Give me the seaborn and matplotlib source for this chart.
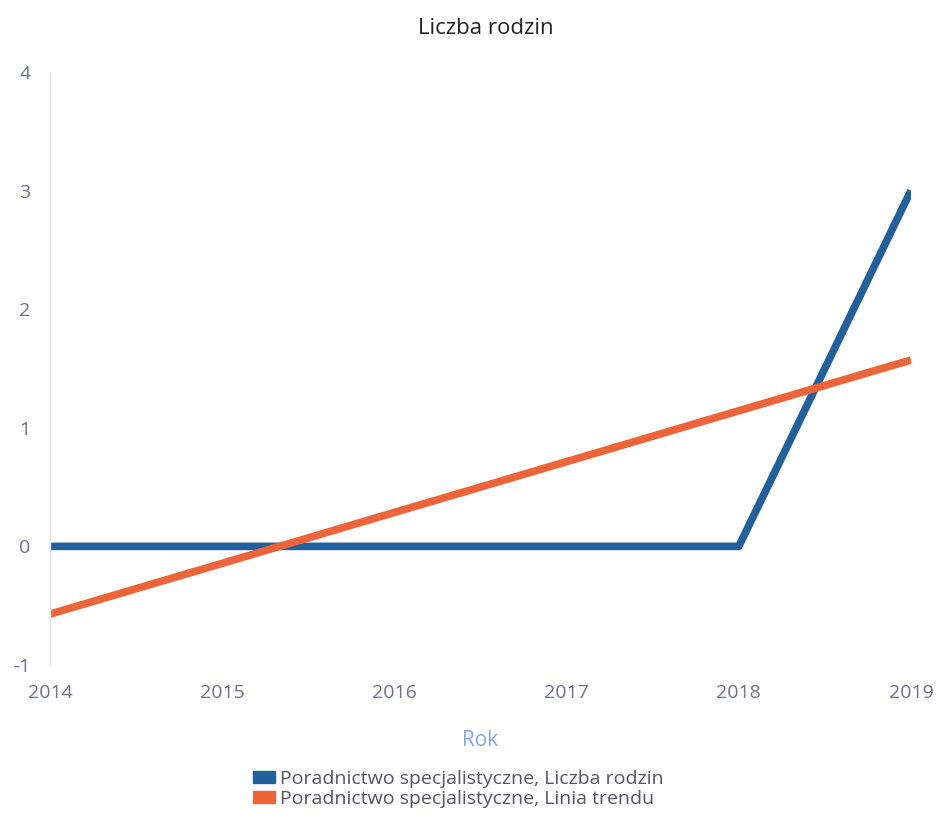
import matplotlib
matplotlib.use("Agg")
import matplotlib.pyplot as plt
from matplotlib.patches import Patch
import seaborn as sns
import pandas as pd

# dane
lata = [2014, 2015, 2016, 2017, 2018, 2019]
liczba_rodzin = [0, 0, 0, 0, 0, 3]
linia_trendu = [-0.571, -0.143, 0.286, 0.714, 1.143, 1.571]

seria_1 = "Poradnictwo specjalistyczne, Liczba rodzin"
seria_2 = "Poradnictwo specjalistyczne, Linia trendu"

df = pd.DataFrame({
    "Rok": lata * 2,
    "Wartosc": liczba_rodzin + linia_trendu,
    "Seria": [seria_1] * len(lata) + [seria_2] * len(lata),
})

sns.set_theme(style="white")
plt.rcParams["font.family"] = ["Open Sans", "DejaVu Sans"]

kolory = {seria_1: "#23609b", seria_2: "#ee6439"}

fig = plt.figure(figsize=(9.44, 8.33), dpi=100)
ax = fig.add_axes([0.053, 0.2017, 0.912, 0.712])

sns.lineplot(data=df, x="Rok", y="Wartosc", hue="Seria", palette=kolory,
             linewidth=5.5, ax=ax, legend=False, solid_capstyle="butt")

ax.set_xlim(2014, 2019)
ax.set_ylim(-1, 4)
ax.set_xticks(lata)
ax.set_yticks([-1, 0, 1, 2, 3, 4])
ax.set_yticklabels(["-1", "0", "1", "2", "3", "4"])

for s in ["top", "right", "bottom"]:
    ax.spines[s].set_visible(False)
ax.spines["left"].set_color("#e6e6ee")
ax.spines["left"].set_linewidth(1)

ax.tick_params(axis="both", colors="#70708c", labelsize=14, length=0)
ax.tick_params(axis="x", pad=14)
ax.tick_params(axis="y", pad=14)

ax.set_ylabel("")
ax.set_xlabel("Rok", color="#8aa4e6", fontsize=15, labelpad=20)
fig.suptitle("Liczba rodzin", x=0.515, y=0.978, fontsize=16, color="#222222")

uchwyty = [Patch(color=kolory[seria_1], label=seria_1),
           Patch(color=kolory[seria_2], label=seria_2)]
fig.legend(handles=uchwyty, loc="upper left", bbox_to_anchor=(0.26, 0.085),
           frameon=False, fontsize=14, labelcolor="#555566",
           handlelength=1.1, handleheight=0.6, handletextpad=0.3,
           labelspacing=0.1, borderaxespad=0)

fig.savefig("out.png", dpi=100)
